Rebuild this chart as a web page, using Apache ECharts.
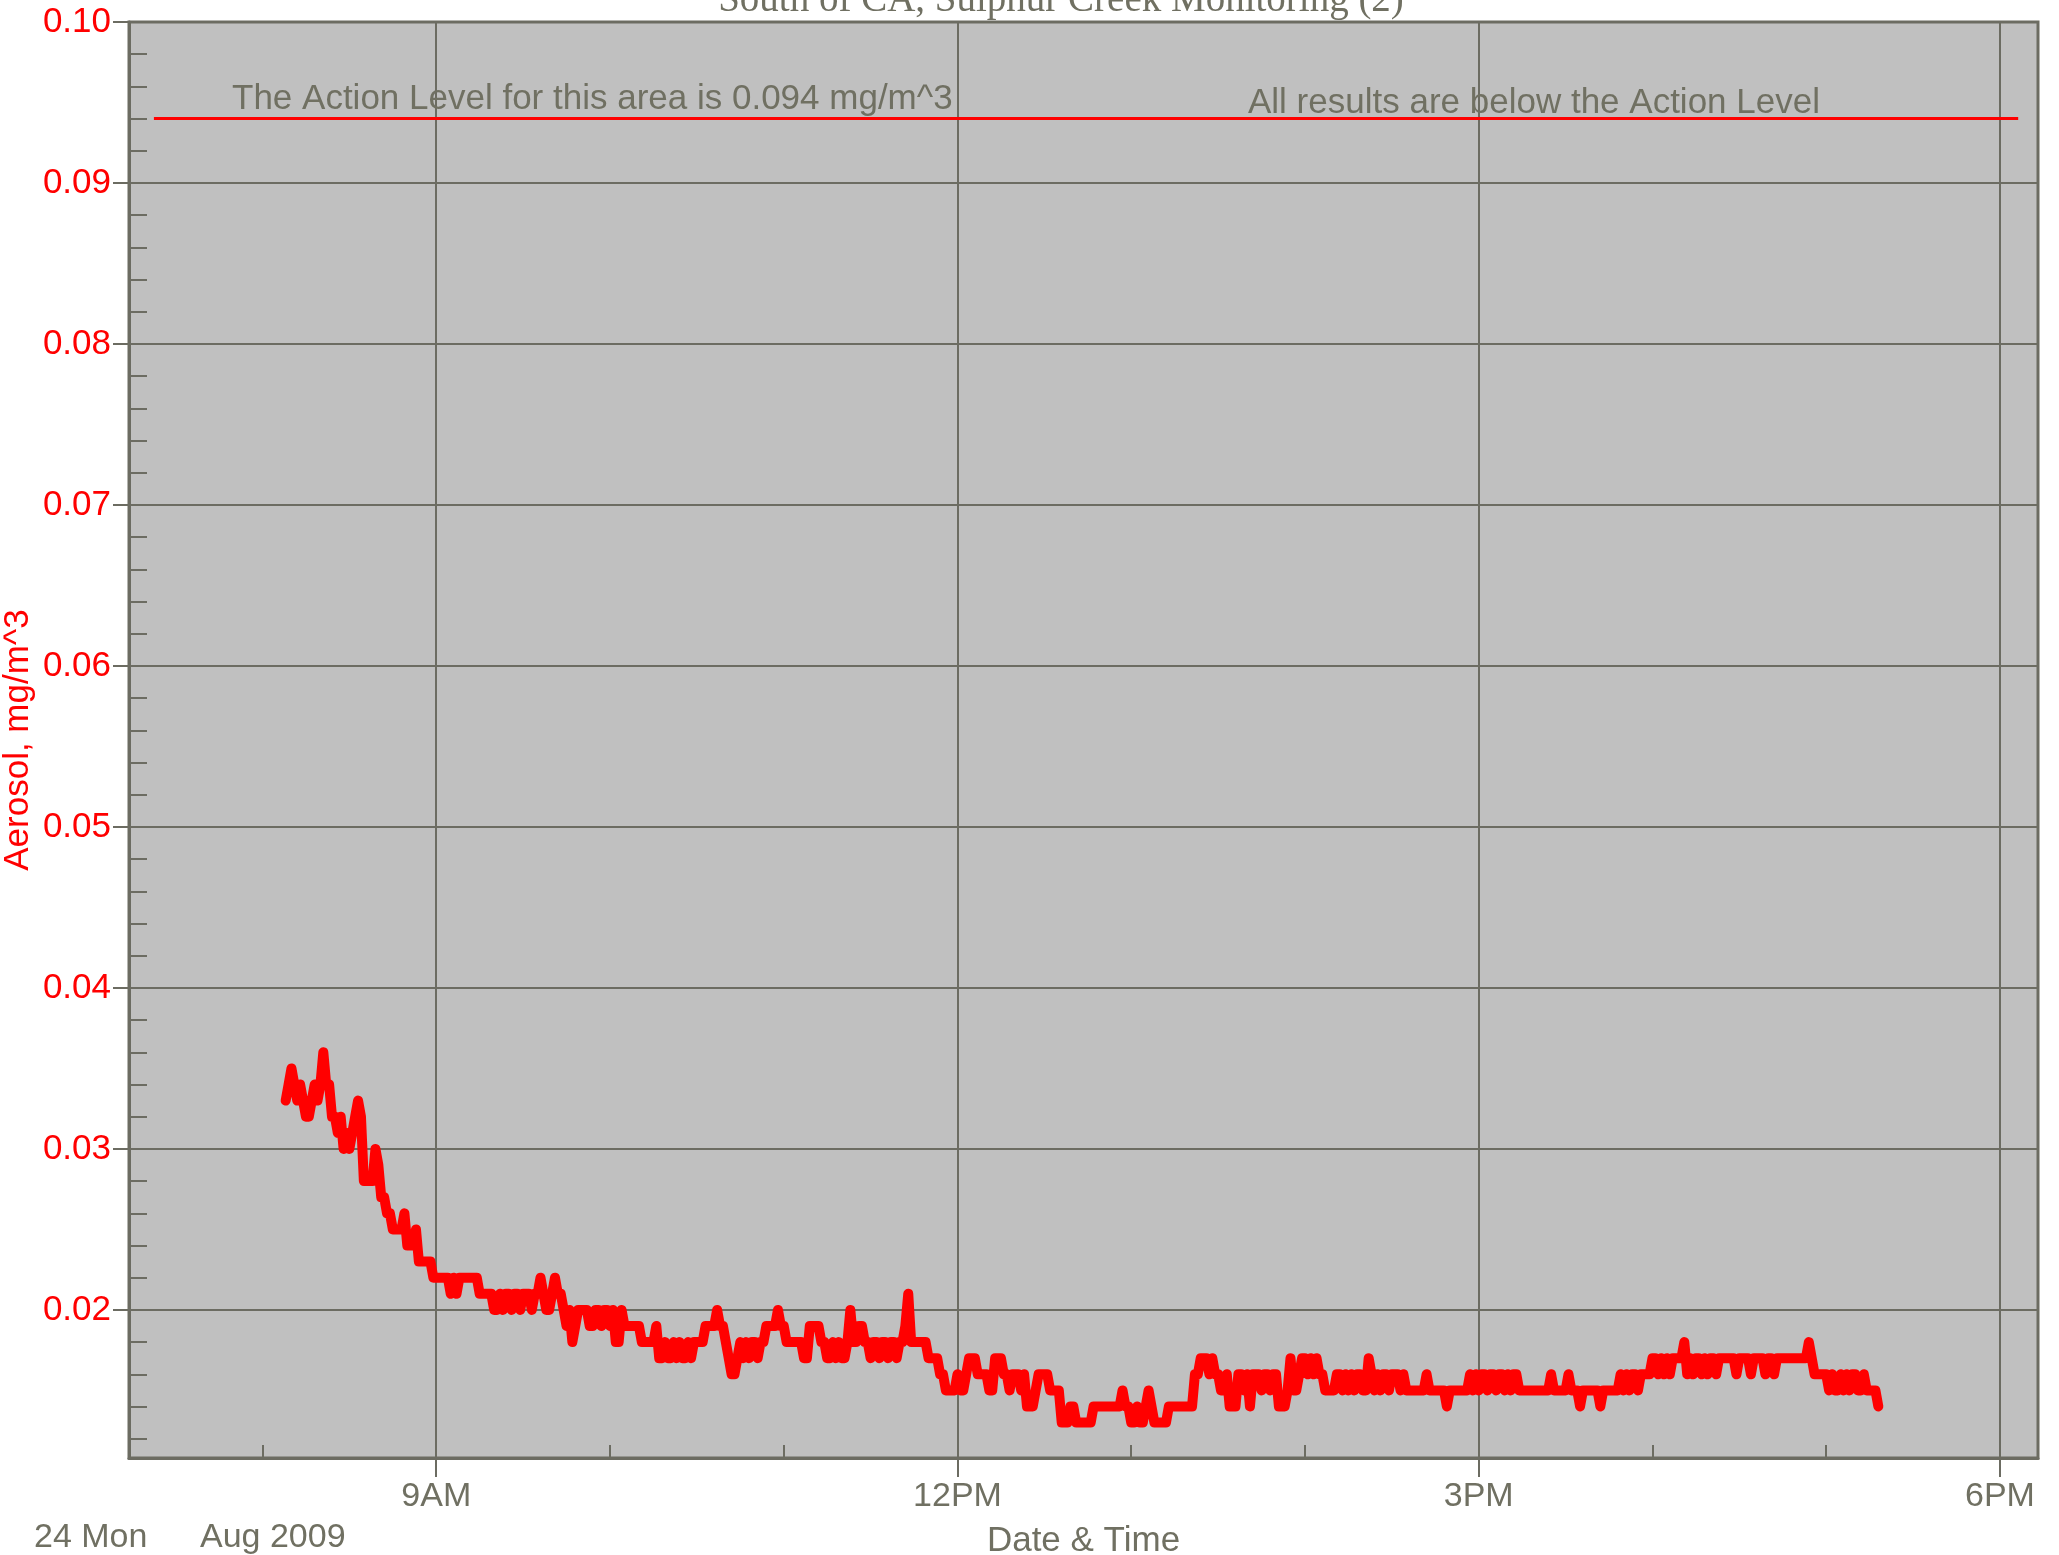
<!DOCTYPE html>
<html><head><meta charset="utf-8">
<script src="https://cdn.jsdelivr.net/npm/echarts@6/dist/echarts.min.js"></script>
<style>html,body{margin:0;padding:0;background:#fff}#c{width:2059px;height:1555px}</style>
</head><body><div id="c"></div>
<script>
// ---------------- data ----------------
const chartTitle = 'South of CA, Sulphur Creek Monitoring (2)';
const yAxisName = 'Aerosol, mg/m^3';
const xAxisName = 'Date & Time';
const dateLabels = ['24 Mon', 'Aug 2009'];
const xTickHours = [9, 12, 15, 18];
const xTickLabels = ['9AM', '12PM', '3PM', '6PM'];
const xMinorTickHours = [8, 10, 11, 13, 14, 16, 17];
const yTickValues = [0.02, 0.03, 0.04, 0.05, 0.06, 0.07, 0.08, 0.09, 0.10];
const yTickLabels = ['0.02', '0.03', '0.04', '0.05', '0.06', '0.07', '0.08', '0.09', '0.10'];
const actionLevel = 0.094;
const actionLineHours = [7.375, 18.105];
const annotations = ['The Action Level for this area is 0.094 mg/m^3', 'All results are below the Action Level'];
const sampleStartMinute = 8 * 60 + 8;   // 08:08, one sample per minute
const aerosol = [
  0.033,0.034,0.035,0.034,0.033,0.034,0.033,0.032,0.032,0.033, // 08:08
  0.034,0.033,0.034,0.036,0.034,0.034,0.032,0.032,0.031,0.032, // 08:18
  0.030,0.031,0.030,0.031,0.032,0.033,0.032,0.028,0.028,0.028, // 08:28
  0.028,0.030,0.029,0.027,0.027,0.026,0.026,0.025,0.025,0.025, // 08:38
  0.025,0.026,0.024,0.024,0.024,0.025,0.023,0.023,0.023,0.023, // 08:48
  0.023,0.022,0.022,0.022,0.022,0.022,0.022,0.021,0.022,0.021, // 08:58
  0.022,0.022,0.022,0.022,0.022,0.022,0.022,0.021,0.021,0.021, // 09:08
  0.021,0.021,0.020,0.020,0.021,0.020,0.021,0.021,0.020,0.021, // 09:18
  0.021,0.020,0.021,0.021,0.021,0.020,0.021,0.021,0.022,0.021, // 09:28
  0.020,0.020,0.021,0.022,0.021,0.021,0.020,0.019,0.020,0.018, // 09:38
  0.019,0.020,0.020,0.020,0.020,0.019,0.019,0.020,0.020,0.019, // 09:48
  0.020,0.020,0.019,0.020,0.018,0.018,0.020,0.019,0.019,0.019, // 09:58
  0.019,0.019,0.019,0.018,0.018,0.018,0.018,0.018,0.019,0.017, // 10:08
  0.017,0.018,0.017,0.017,0.018,0.017,0.018,0.017,0.017,0.018, // 10:18
  0.017,0.018,0.018,0.018,0.018,0.019,0.019,0.019,0.019,0.020, // 10:28
  0.019,0.019,0.018,0.017,0.016,0.016,0.017,0.018,0.017,0.018, // 10:38
  0.017,0.018,0.018,0.017,0.018,0.018,0.019,0.019,0.019,0.019, // 10:48
  0.020,0.019,0.019,0.018,0.018,0.018,0.018,0.018,0.018,0.017, // 10:58
  0.017,0.019,0.019,0.019,0.019,0.018,0.018,0.017,0.017,0.018, // 11:08
  0.017,0.018,0.017,0.017,0.018,0.020,0.018,0.018,0.019,0.019, // 11:18
  0.018,0.018,0.017,0.018,0.018,0.017,0.018,0.018,0.017,0.018, // 11:28
  0.018,0.017,0.018,0.018,0.019,0.021,0.018,0.018,0.018,0.018, // 11:38
  0.018,0.018,0.017,0.017,0.017,0.017,0.016,0.016,0.015,0.015, // 11:48
  0.015,0.015,0.016,0.015,0.015,0.016,0.017,0.017,0.017,0.016, // 11:58
  0.016,0.016,0.016,0.015,0.015,0.017,0.017,0.017,0.016,0.016, // 12:08
  0.015,0.016,0.016,0.016,0.015,0.016,0.014,0.014,0.014,0.015, // 12:18
  0.016,0.016,0.016,0.016,0.015,0.015,0.015,0.015,0.013,0.013, // 12:28
  0.013,0.014,0.014,0.013,0.013,0.013,0.013,0.013,0.013,0.014, // 12:38
  0.014,0.014,0.014,0.014,0.014,0.014,0.014,0.014,0.014,0.015, // 12:48
  0.014,0.014,0.013,0.013,0.014,0.013,0.013,0.014,0.015,0.014, // 12:58
  0.013,0.013,0.013,0.013,0.013,0.014,0.014,0.014,0.014,0.014, // 13:08
  0.014,0.014,0.014,0.014,0.016,0.016,0.017,0.017,0.017,0.016, // 13:18
  0.017,0.016,0.016,0.015,0.015,0.016,0.014,0.014,0.014,0.016, // 13:28
  0.016,0.015,0.016,0.014,0.016,0.016,0.016,0.015,0.016,0.016, // 13:38
  0.015,0.016,0.016,0.014,0.014,0.014,0.015,0.017,0.015,0.015, // 13:48
  0.016,0.017,0.017,0.016,0.017,0.016,0.017,0.016,0.016,0.015, // 13:58
  0.015,0.015,0.015,0.016,0.016,0.015,0.016,0.015,0.016,0.015, // 14:08
  0.016,0.016,0.015,0.015,0.017,0.016,0.015,0.016,0.015,0.016, // 14:18
  0.016,0.015,0.016,0.016,0.016,0.015,0.016,0.015,0.015,0.015, // 14:28
  0.015,0.015,0.015,0.015,0.016,0.015,0.015,0.015,0.015,0.015, // 14:38
  0.015,0.014,0.015,0.015,0.015,0.015,0.015,0.015,0.015,0.016, // 14:48
  0.015,0.016,0.015,0.016,0.016,0.015,0.016,0.016,0.015,0.016, // 14:58
  0.016,0.015,0.016,0.015,0.016,0.016,0.015,0.015,0.015,0.015, // 15:08
  0.015,0.015,0.015,0.015,0.015,0.015,0.015,0.016,0.015,0.015, // 15:18
  0.015,0.015,0.015,0.016,0.015,0.015,0.015,0.014,0.015,0.015, // 15:28
  0.015,0.015,0.015,0.015,0.014,0.015,0.015,0.015,0.015,0.015, // 15:38
  0.015,0.016,0.015,0.016,0.015,0.016,0.016,0.015,0.016,0.016, // 15:48
  0.016,0.016,0.017,0.017,0.016,0.017,0.016,0.017,0.016,0.017, // 15:58
  0.017,0.017,0.017,0.018,0.016,0.017,0.016,0.017,0.017,0.016, // 16:08
  0.017,0.016,0.017,0.017,0.016,0.017,0.017,0.017,0.017,0.017, // 16:18
  0.017,0.016,0.017,0.017,0.017,0.017,0.016,0.017,0.017,0.017, // 16:28
  0.017,0.016,0.017,0.017,0.016,0.017,0.017,0.017,0.017,0.017, // 16:38
  0.017,0.017,0.017,0.017,0.017,0.017,0.018,0.017,0.016,0.016, // 16:48
  0.016,0.016,0.016,0.015,0.016,0.015,0.015,0.016,0.015,0.016, // 16:58
  0.015,0.016,0.016,0.015,0.015,0.016,0.015,0.015,0.015,0.015, // 17:08
  0.014                                                        // 17:18
];

// ---------------- layout / style ----------------
const X_MIN = 7.2316, X_MAX = 18.219;
const Y_MIN = 0.0108, Y_MAX = 0.10;
const axisGray = '#6c6c62';
const textGray = '#707062';
const red = '#ff0000';
const sans = '"Liberation Sans", Arial, sans-serif';
const serif = '"Liberation Serif", "Times New Roman", serif';

const points = aerosol.map((v, i) => [(sampleStartMinute + i) / 60, v]);
const actionPoints = actionLineHours.map(h => [h, actionLevel]);

const yMinorTicks = [];
for (let k = 6; k <= 49; k++) yMinorTicks.push(+(k * 0.002).toFixed(3));

const chart = echarts.init(document.getElementById('c'), null, { renderer: 'canvas', width: 2059, height: 1555 });
chart.setOption({
  animation: false,
  backgroundColor: '#ffffff',
  grid: { left: 129, right: 21, top: 22, bottom: 97, show: true, containLabel: false,
          outerBoundsMode: 'none',
          backgroundColor: '#c0c0c0', borderColor: axisGray, borderWidth: 3 },
  xAxis: [
    { type: 'value', min: X_MIN, max: X_MAX, position: 'bottom',
      name: xAxisName, nameLocation: 'middle', nameGap: 66,
      nameTextStyle: { color: textGray, fontSize: 35, fontFamily: sans },
      axisLine: { show: true, onZero: false, lineStyle: { color: axisGray, width: 3 } },
      axisTick: { show: true, inside: false, length: 19, customValues: xTickHours,
                  lineStyle: { color: axisGray, width: 2 } },
      axisLabel: { show: true, customValues: xTickHours, margin: 22, color: textGray,
                   fontSize: 34, fontFamily: sans,
                   formatter: v => { const i = xTickHours.indexOf(Math.round(v)); return i >= 0 ? xTickLabels[i] : ''; } },
      splitLine: { show: true, lineStyle: { color: axisGray, width: 2 } } },
    { type: 'value', min: X_MIN, max: X_MAX, position: 'bottom',
      axisLine: { show: false, onZero: false }, axisLabel: { show: false }, splitLine: { show: false },
      axisTick: { show: true, inside: true, length: 13, customValues: xMinorTickHours,
                  lineStyle: { color: axisGray, width: 2 } } }
  ],
  yAxis: [
    { type: 'value', min: Y_MIN, max: Y_MAX, position: 'left',
      name: yAxisName, nameLocation: 'middle', nameRotate: 90, nameGap: 93, nameMoveOverlap: false,
      nameTextStyle: { color: red, fontSize: 35, fontFamily: sans },
      axisLine: { show: true, onZero: false, lineStyle: { color: axisGray, width: 3 } },
      axisTick: { show: true, inside: false, length: 16, customValues: yTickValues,
                  lineStyle: { color: axisGray, width: 2 } },
      axisLabel: { show: true, customValues: yTickValues, margin: 18, color: red,
                   fontSize: 35, fontFamily: sans,
                   formatter: v => { const i = yTickValues.findIndex(t => Math.abs(t - v) < 1e-6); return i >= 0 ? yTickLabels[i] : ''; } },
      splitLine: { show: true, lineStyle: { color: axisGray, width: 2 } } },
    { type: 'value', min: Y_MIN, max: Y_MAX, position: 'left',
      axisLine: { show: false, onZero: false }, axisLabel: { show: false }, splitLine: { show: false },
      axisTick: { show: true, inside: true, length: 18, customValues: yMinorTicks,
                  lineStyle: { color: axisGray, width: 2 } } }
  ],
  series: [
    { type: 'line', name: 'Action Level', xAxisIndex: 0, yAxisIndex: 0, data: actionPoints,
      symbol: 'none', silent: true, z: 3,
      lineStyle: { color: red, width: 3 } },
    { type: 'line', name: 'Aerosol', xAxisIndex: 0, yAxisIndex: 0, data: points,
      symbol: 'none', z: 4, sampling: null,
      lineStyle: { color: red, width: 10, cap: 'round', join: 'round' } }
  ],
  graphic: [
    { type: 'text', x: 1061, y: 1, z: 100, style: { text: chartTitle, fill: textGray,
      fontSize: 39, fontFamily: serif, align: 'center', verticalAlign: 'middle' } },
    { type: 'text', x: 232, y: 99, z: 100, style: { text: annotations[0], fill: textGray,
      fontSize: 35, fontFamily: sans, align: 'left', verticalAlign: 'middle' } },
    { type: 'text', x: 1248, y: 103, z: 100, style: { text: annotations[1], fill: textGray,
      fontSize: 35, fontFamily: sans, align: 'left', verticalAlign: 'middle' } },
    { type: 'text', x: 34, y: 1538, z: 100, style: { text: dateLabels[0], fill: textGray,
      fontSize: 34, fontFamily: sans, align: 'left', verticalAlign: 'middle' } },
    { type: 'text', x: 200, y: 1538, z: 100, style: { text: dateLabels[1], fill: textGray,
      fontSize: 34, fontFamily: sans, align: 'left', verticalAlign: 'middle' } }
  ]
});
</script>
</body></html>
